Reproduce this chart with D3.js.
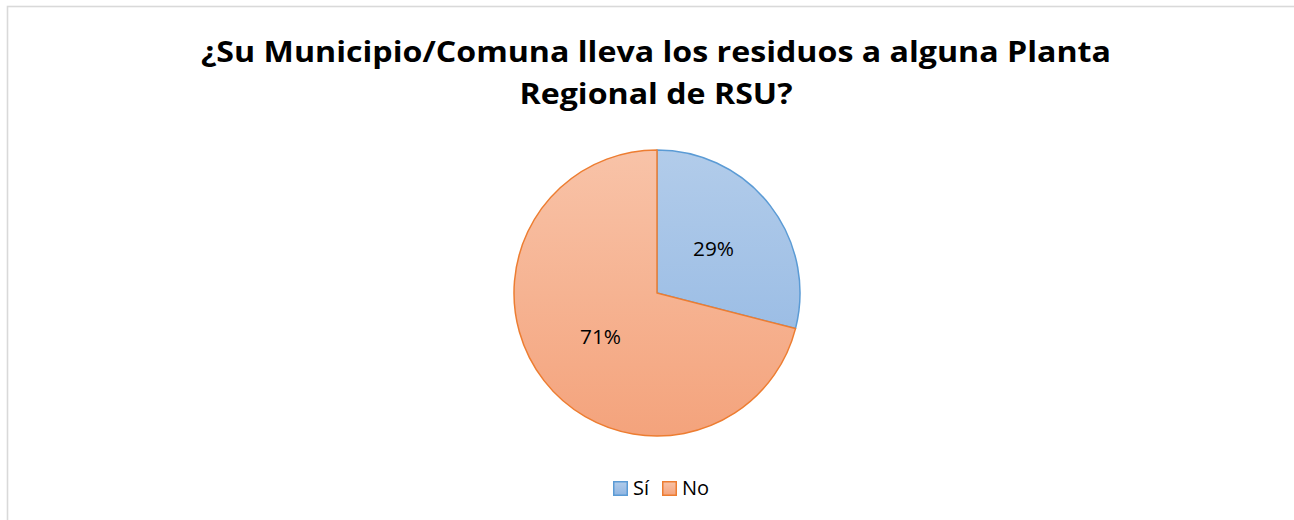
<!DOCTYPE html>
<html>
<head>
<meta charset="utf-8">
<script src="https://cdn.jsdelivr.net/npm/d3@7"></script>
<style>
  html, body { margin: 0; padding: 0; background: #fff; }
  svg { display: block; }
</style>
</head>
<body>
<svg id="chart" width="1294" height="520"></svg>
<script>
// Survey answers and their shares (percent)
const categories = ["Sí", "No"];
const values = [29, 71];
const titleLines = ["¿Su Municipio/Comuna lleva los residuos a alguna Planta", "Regional de RSU?"];

const strokeColors = ["#5B9BD5", "#ED7D31"];
const gradStops = [["#B2CCEA", "#8FB5E2"], ["#F8C3A8", "#F4A37C"]];

const svg = d3.select("#chart");
const W = 1294, H = 520;
const font = "'Open Sans', Lato, sans-serif";

// chart area frame
svg.append("rect")
  .attr("x", 7.5).attr("y", 6.5)
  .attr("width", W + 10).attr("height", H + 10)
  .attr("fill", "#fff").attr("stroke", "#D9D9D9").attr("stroke-width", 1.6);

// title
const title = svg.append("g");
const titleWidths = [910, 273];
titleLines.forEach((t, i) => {
  title.append("text")
    .attr("x", 656).attr("y", 62 + i * 42)
    .attr("text-anchor", "middle")
    .attr("font-family", font)
    .attr("font-weight", 700)
    .attr("font-size", 28)
    .attr("fill", "#000")
    .attr("textLength", titleWidths[i])
    .attr("lengthAdjust", "spacingAndGlyphs")
    .text(t);
});

// gradients (coordinates relative to the pie's centre)
const defs = svg.append("defs");
const cx = 657, cy = 293, r = 143;
gradStops.forEach((s, i) => {
  const g = defs.append("linearGradient")
    .attr("id", "grad" + i)
    .attr("gradientUnits", "userSpaceOnUse")
    .attr("x1", 0).attr("y1", -r).attr("x2", 0).attr("y2", r);
  g.append("stop").attr("offset", "0%").attr("stop-color", s[0]);
  g.append("stop").attr("offset", "100%").attr("stop-color", s[1]);
});

const pie = d3.pie().sort(null).value(d => d)(values);
const arc = d3.arc().innerRadius(0).outerRadius(r);

const gPie = svg.append("g").attr("transform", `translate(${cx},${cy})`);
gPie.selectAll("path.slice")
  .data(pie)
  .join("path")
  .attr("class", "slice")
  .attr("d", arc)
  .attr("fill", (d, i) => `url(#grad${i})`)
  .attr("stroke", (d, i) => strokeColors[i])
  .attr("stroke-width", 1.5)
  .attr("stroke-linejoin", "round");

// data labels
const labelArc = d3.arc().innerRadius(r * 0.5).outerRadius(r * 0.5);
gPie.selectAll("text.lbl")
  .data(pie)
  .join("text")
  .attr("class", "lbl")
  .attr("transform", d => `translate(${labelArc.centroid(d)})`)
  .attr("text-anchor", "middle")
  .attr("dy", "0.35em")
  .attr("font-family", font)
  .attr("font-size", 20)
  .attr("fill", "#000")
  .attr("textLength", 41)
  .attr("lengthAdjust", "spacingAndGlyphs")
  .text(d => d.data + "%");

// legend
const legend = svg.append("g").attr("transform", "translate(613,481)");
const legendX = [0, 49];
categories.forEach((c, i) => {
  const lg = defs.append("linearGradient").attr("id", "lg" + i)
    .attr("x1", 0).attr("y1", 0).attr("x2", 0).attr("y2", 1);
  lg.append("stop").attr("offset", "0%").attr("stop-color", gradStops[i][0]);
  lg.append("stop").attr("offset", "100%").attr("stop-color", gradStops[i][1]);
  const item = legend.append("g").attr("transform", `translate(${legendX[i]},0)`);
  item.append("rect")
    .attr("x", 0.75).attr("y", 0.75).attr("width", 13.5).attr("height", 13.5)
    .attr("fill", `url(#lg${i})`)
    .attr("stroke", strokeColors[i]).attr("stroke-width", 1.5);
  item.append("text")
    .attr("x", 20).attr("y", 14)
    .attr("font-family", font)
    .attr("font-size", 20)
    .attr("fill", "#000")
    .text(c);
});
</script>
</body>
</html>
